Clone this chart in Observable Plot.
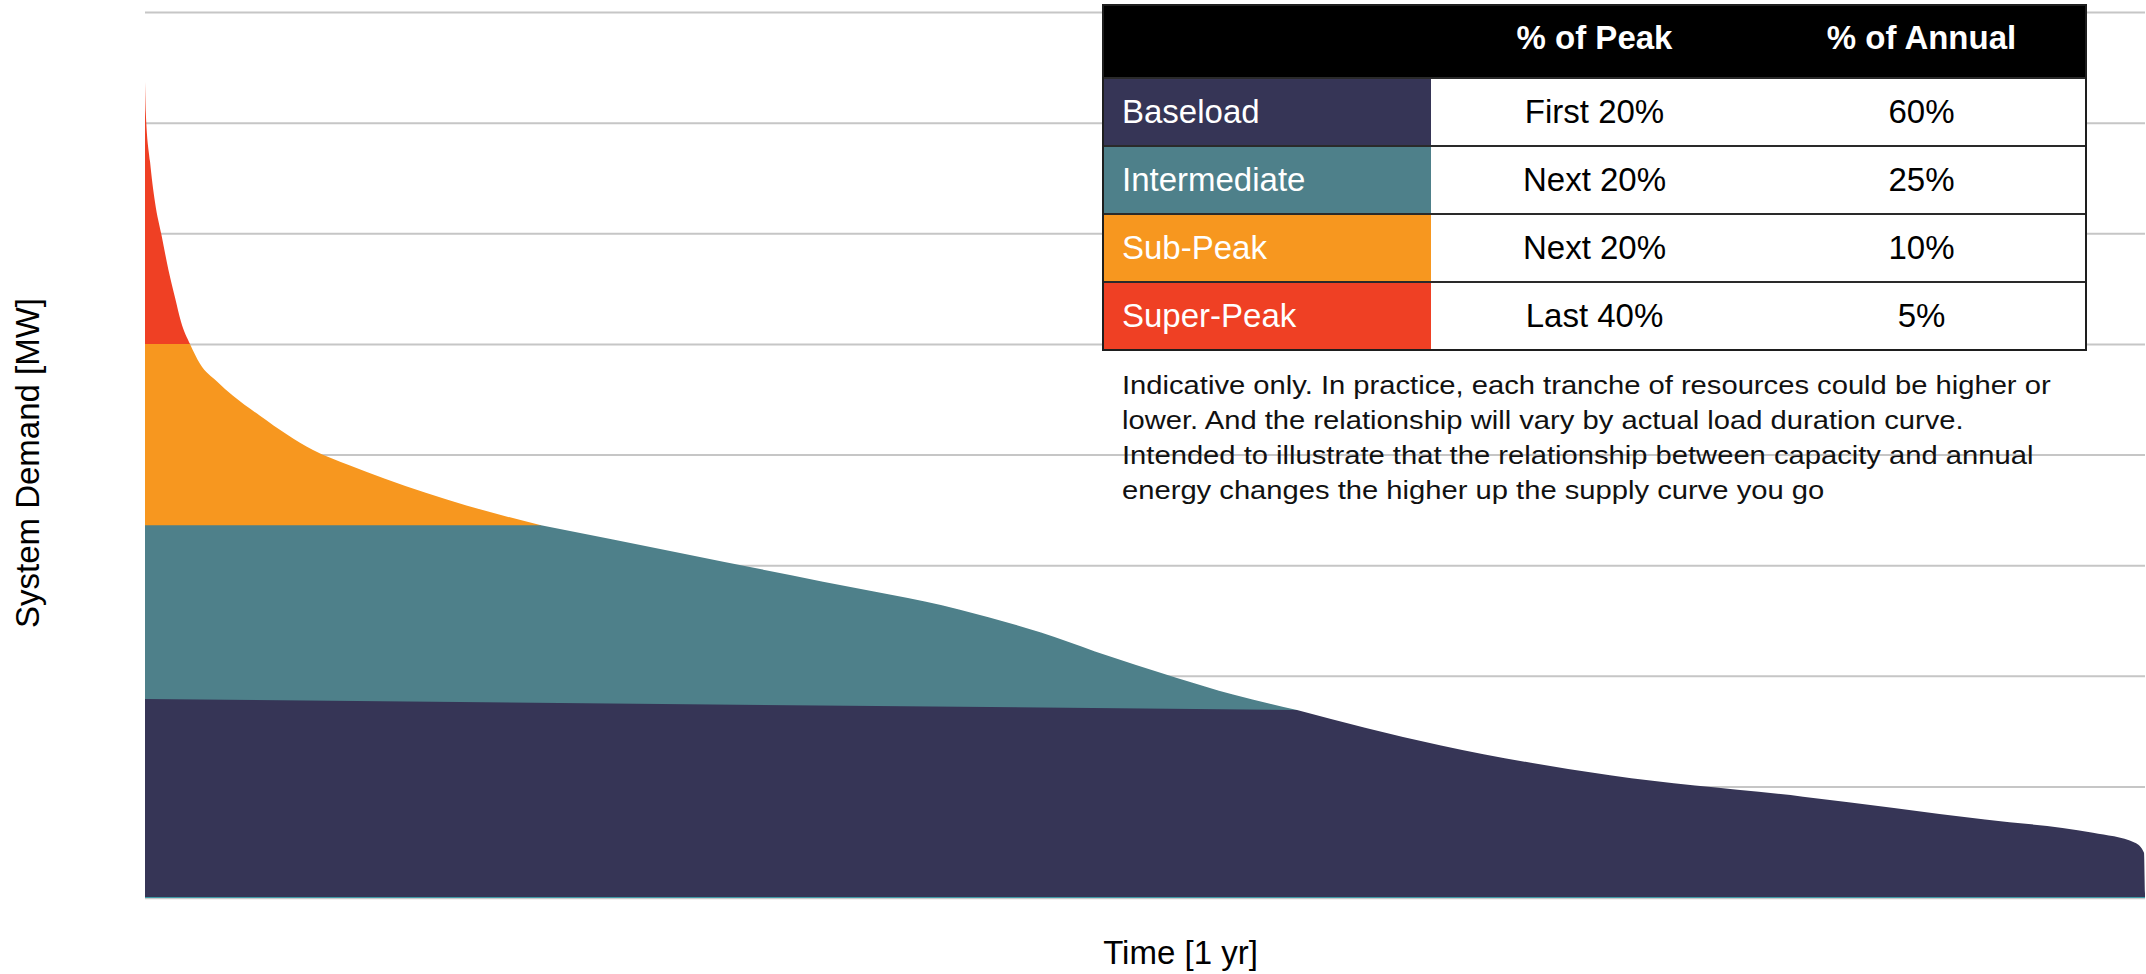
<!DOCTYPE html>
<html>
<head>
<meta charset="utf-8">
<script src="https://cdn.jsdelivr.net/npm/d3@7"></script>
<script src="https://cdn.jsdelivr.net/npm/@observablehq/plot@0.6"></script>
<style>
  html, body { margin: 0; padding: 0; background: #fff; overflow: hidden; }
  #wrap { position: relative; width: 2146px; height: 974px; font-family: "Liberation Sans", Arial, sans-serif; }
  #wrap svg { position: absolute; left: 0; top: 0; }
  #tbl { position: absolute; left: 1102px; top: 4px; width: 985px; box-sizing: border-box;
         border: 2px solid #1e1e1e; background: #fff; font-size: 33px; }
  .row { display: flex; box-sizing: border-box; height: 68px; border-top: 2px solid #2a2a2a; }
  .row.head { height: 71px; border-top: none; background: #000; color: #fff; font-weight: bold; }
  .cell { width: 327px; display: flex; align-items: center; justify-content: center; box-sizing: border-box; }
  .head .cell { padding-bottom: 8px; }
  .cell.name { justify-content: flex-start; padding-left: 18px; color: #fff; }
  .cell.val { color: #000; background: #fff; }
  #note { position: absolute; left: 1122px; top: 368px; font-size: 26px; line-height: 35px; color: #111;
          white-space: nowrap; transform: scaleX(1.122); transform-origin: 0 0; }
</style>
</head>
<body>
<div id="wrap"></div>
<script>
// ---- Load duration curve (fraction of year, demand in gridline units) ----
const loadT  = [0, 0.0004, 0.0025, 0.005, 0.0083, 0.0117, 0.015, 0.018, 0.0225, 0.0275, 0.036, 0.044, 0.0575, 0.071, 0.084, 0.1025, 0.12, 0.1607, 0.198, 0.27, 0.339, 0.407, 0.448, 0.475, 0.516, 0.544, 0.576, 0.61, 0.648, 0.7325, 0.829, 0.92, 0.974, 0.995, 0.9995, 1.0];
const loadMW = [7.37, 7.09, 6.65, 6.28, 5.98, 5.67, 5.42, 5.20, 5.00, 4.82, 4.66, 4.53, 4.35, 4.18, 4.04, 3.90, 3.78, 3.54, 3.36, 3.10, 2.85, 2.60, 2.39, 2.22, 1.98, 1.83, 1.69, 1.53, 1.37, 1.10, 0.907, 0.70, 0.58, 0.49, 0.40, 0.03];

// ---- Tier boundaries ----
const baseloadTopT  = [0, 0.576];
const baseloadTopMW = [1.79, 1.69];
const intermediateCapMW = 3.36;
const subPeakCapMW = 5.0;
const gridLevels = [1, 2, 3, 4, 5, 6, 7, 8];

// ---- Table ----
const tierNames   = ["Baseload", "Intermediate", "Sub-Peak", "Super-Peak"];
const tierColors  = ["#363556", "#4E808A", "#F7971F", "#EF4024"];
const peakShare   = ["First 20%", "Next 20%", "Next 20%", "Last 40%"];
const annualShare = ["60%", "25%", "10%", "5%"];
const headers     = ["", "% of Peak", "% of Annual"];
const noteLines = [
  "Indicative only. In practice, each tranche of resources could be higher or",
  "lower. And the relationship will vary by actual load duration curve.",
  "Intended to illustrate that the relationship between capacity and annual",
  "energy changes the higher up the supply curve you go"
];

const load = loadT.map((t, i) => ({t, mw: loadMW[i]}));
const iSub = load.findIndex(d => d.mw <= subPeakCapMW);
const iInt = load.findIndex(d => d.mw <= intermediateCapMW);
const iBase = load.findIndex(d => d.t >= baseloadTopT[1]);

const superPeak = load.slice(0, iSub + 1);
const subPeakFlat = [{t: 0, mw: subPeakCapMW}, {t: load[iSub].t, mw: subPeakCapMW}];
const subPeakCurve = load.slice(iSub, iInt + 1);
const intermediateFlat = [{t: 0, mw: intermediateCapMW}, {t: load[iInt].t, mw: intermediateCapMW}];
const intermediateCurve = load.slice(iInt, iBase + 1);
const baseloadFlat = [{t: baseloadTopT[0], mw: baseloadTopMW[0]}, {t: baseloadTopT[1], mw: baseloadTopMW[1]}];
const baseloadCurve = load.slice(iBase);

const font = "'Liberation Sans', Arial, sans-serif";
const curve = "monotone-x";
const area = (data, fill, c = "linear") => Plot.areaY(data, {x: "t", y1: 0, y2: "mw", fill, curve: c});

const chart = Plot.plot({
  width: 2146,
  height: 974,
  marginLeft: 145,
  marginRight: 1,
  marginTop: 12,
  marginBottom: 77,
  style: {fontFamily: font, background: "transparent"},
  x: {domain: [0, 1], axis: null},
  y: {domain: [0, 8], axis: null},
  marks: [
    Plot.ruleY(gridLevels, {stroke: "#c6c6c6", strokeWidth: 2}),
    area(superPeak, tierColors[3], curve),
    area(subPeakFlat, tierColors[2]),
    area(subPeakCurve, tierColors[2], curve),
    area(intermediateFlat, tierColors[1]),
    area(intermediateCurve, tierColors[1], curve),
    area(baseloadFlat, tierColors[0]),
    area(baseloadCurve, tierColors[0], curve),
    Plot.ruleY([0], {stroke: "#c8c8c8", strokeWidth: 1.5, dy: 1}),
    Plot.ruleY([0], {stroke: "#3f9aa6", strokeWidth: 1}),
    Plot.text(["Time [1 yr]"], {frameAnchor: "bottom", textAnchor: "middle", lineAnchor: "middle", dx: 35, dy: 56, fontSize: 33, fill: "#000"}),
    Plot.text(["System Demand [MW]"], {frameAnchor: "left", textAnchor: "middle", lineAnchor: "middle", rotate: -90, dx: -117, dy: 8, fontSize: 33, fill: "#000"})
  ]
});

const wrap = document.getElementById("wrap");
wrap.appendChild(chart);

// table
const tbl = document.createElement("div");
tbl.id = "tbl";
const head = document.createElement("div");
head.className = "row head";
headers.forEach(h => {
  const c = document.createElement("div");
  c.className = "cell";
  c.textContent = h;
  head.appendChild(c);
});
tbl.appendChild(head);
tierNames.forEach((name, i) => {
  const r = document.createElement("div");
  r.className = "row";
  const c1 = document.createElement("div");
  c1.className = "cell name";
  c1.style.background = tierColors[i];
  c1.textContent = name;
  const c2 = document.createElement("div");
  c2.className = "cell val";
  c2.textContent = peakShare[i];
  const c3 = document.createElement("div");
  c3.className = "cell val";
  c3.textContent = annualShare[i];
  r.append(c1, c2, c3);
  tbl.appendChild(r);
});
wrap.appendChild(tbl);

const note = document.createElement("div");
note.id = "note";
noteLines.forEach(line => {
  const d = document.createElement("div");
  d.textContent = line;
  note.appendChild(d);
});
wrap.appendChild(note);
</script>
</body>
</html>
